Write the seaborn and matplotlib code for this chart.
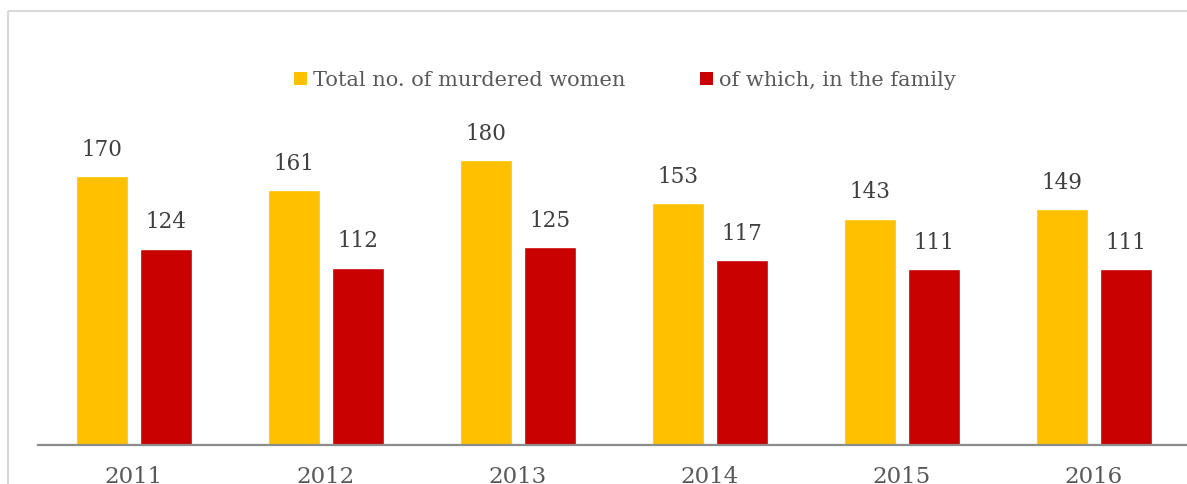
import matplotlib
matplotlib.use("Agg")
import matplotlib.pyplot as plt
import seaborn as sns
import pandas as pd
from matplotlib.patches import Patch
from matplotlib.lines import Line2D

years = ["2011", "2012", "2013", "2014", "2015", "2016"]
total_murdered = [170, 161, 180, 153, 143, 149]
in_family = [124, 112, 125, 117, 111, 111]
series_names = ["Total no. of murdered women", "of which, in the family"]
colors = ["#FFC000", "#C80000"]

df = pd.DataFrame({
    "year": years * 2,
    "value": total_murdered + in_family,
    "series": [series_names[0]] * len(years) + [series_names[1]] * len(years),
})

sns.set_style("white")
plt.rcParams["font.family"] = ["DejaVu Serif"]

W, H = 1187, 484
fig = plt.figure(figsize=(W / 100, H / 100), dpi=100)
left = 38 / W
bottom = (H - 445) / H
width = 1152 / W
ymax = 200
height = ymax * 1.583 / H
ax = fig.add_axes([left, bottom, width, height])

sns.barplot(data=df, x="year", y="value", hue="series", palette=colors,
            width=0.667, gap=0.2, ax=ax, legend=False, saturation=1)

ax.set_xlim(-0.5, 5.5)
ax.set_ylim(0, ymax)
for c in ax.containers:
    ax.bar_label(c, padding=11, fontsize=15.5, color="#404040")

for s in ["left", "right", "top"]:
    ax.spines[s].set_visible(False)
ax.spines["bottom"].set_color("#8c8c8c")
ax.spines["bottom"].set_linewidth(1.6)
ax.set_yticks([])
ax.set_xlabel("")
ax.set_ylabel("")
ax.tick_params(axis="x", length=0, pad=15, labelsize=16.5, labelcolor="#595959")

handles = [Patch(facecolor=colors[0], edgecolor="none"),
           Patch(facecolor=colors[1], edgecolor="none")]
fig.legend(handles, series_names, loc="center", bbox_to_anchor=(625 / W, 1 - 80 / H),
           ncol=2, frameon=False, fontsize=15, labelcolor="#595959",
           handlelength=0.6, handleheight=0.6, handletextpad=0.3, columnspacing=3.6)

# outer border: left and top lines only
bx, by = 8 / W, 1 - 11 / H
fig.add_artist(Line2D([bx, bx], [0, by], transform=fig.transFigure,
                      color="#d9d9d9", linewidth=1.5, solid_capstyle="butt"))
fig.add_artist(Line2D([bx, 1.0], [by, by], transform=fig.transFigure,
                      color="#d9d9d9", linewidth=1.5, solid_capstyle="butt"))

fig.savefig("out.png", dpi=100)
